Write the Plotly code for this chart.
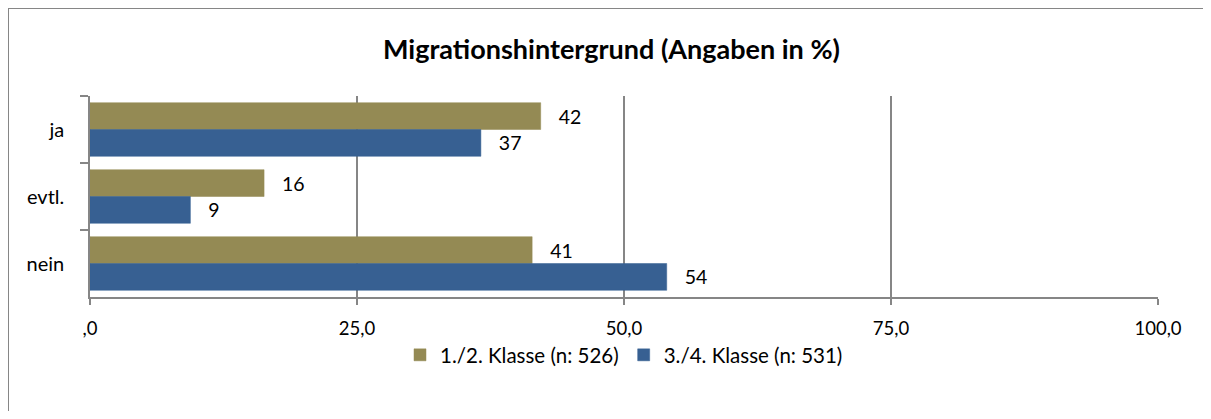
import plotly.graph_objects as go

categories = ["ja", "evtl.", "nein"]
series_names = ["1./2. Klasse (n: 526)", "3./4. Klasse (n: 531)"]
values_12 = [42.2, 16.3, 41.4]
values_34 = [36.6, 9.4, 54.0]
colors = ["#948A54", "#376092"]
x_tickvals = [0, 25, 50, 75, 100]
x_ticktext = [",0", "25,0", "50,0", "75,0", "100,0"]
title_text = "Migrationshintergrund (Angaben in %)"

FONT = "Lato"
GRAY = "#868686"
W, H = 1195, 403

fig = go.Figure()
for name, vals, col in zip(series_names, [values_12, values_34], colors):
    fig.add_trace(go.Bar(
        y=categories, x=vals, name=name, orientation="h",
        marker=dict(color=col, line=dict(color=col, width=0.5)),
        text=["   " + str(round(v)) for v in vals],
        textposition="outside", cliponaxis=False,
        textfont=dict(family=FONT, size=19.5, color="#000000"),
    ))

# empty helper trace so the frame axes (x2/y2) are drawn
fig.add_trace(go.Scatter(x=[None], y=[None], xaxis="x2", yaxis="y2",
                         showlegend=False, hoverinfo="skip", mode="lines"))

# plot-area placement in figure pixels
pl, pr, pt, pb = 82, 1150, 88, 289

fig.update_layout(
    width=W, height=H,
    margin=dict(l=0, r=0, t=0, b=0, autoexpand=False),
    paper_bgcolor="white", plot_bgcolor="rgba(0,0,0,0)",
    barmode="group", bargap=0.2, bargroupgap=0,
    font=dict(family=FONT, size=19, color="#000000"),
    title=dict(text="<b>" + title_text + "</b>", x=0.505, xanchor="center",
               y=1 - 42 / H, yanchor="middle", font=dict(family=FONT, size=27, color="#000000")),
    showlegend=True,
    legend=dict(orientation="h", x=((pl + pr) / 2) / W, xanchor="center",
                y=1 - 347 / H, yanchor="middle",
                font=dict(family=FONT, size=20.5), traceorder="normal",
                itemwidth=30, bgcolor="rgba(0,0,0,0)"),
    xaxis=dict(domain=[pl / W, pr / W], anchor="y", automargin=False),
    yaxis=dict(domain=[1 - pb / H, 1 - pt / H], anchor="x", automargin=False),
    xaxis2=dict(domain=[1 / W, 1], anchor="y2", side="top", range=[0, 1], automargin=False,
                showline=True, linecolor=GRAY, linewidth=2, showgrid=False,
                zeroline=False, showticklabels=False, ticks="", fixedrange=True),
    yaxis2=dict(domain=[0, 1 - 1 / H], anchor="x2", side="left", range=[0, 1], automargin=False,
                showline=True, linecolor=GRAY, linewidth=2, showgrid=False,
                zeroline=False, showticklabels=False, ticks="", fixedrange=True),
)

fig.update_xaxes(selector=dict(anchor="y"), range=[0, 100], tickvals=x_tickvals, ticktext=x_ticktext,
                 showgrid=True, gridcolor=GRAY, gridwidth=1.5,
                 showline=True, linecolor=GRAY, linewidth=1.5,
                 ticks="outside", ticklen=6, tickcolor=GRAY, tickwidth=1.5,
                 ticklabelstandoff=8, zeroline=False,
                 tickfont=dict(family=FONT, size=18.5, color="#000000"))
fig.update_yaxes(selector=dict(anchor="x"), autorange="reversed", showgrid=False,
                 showline=True, linecolor=GRAY, linewidth=1.5,
                 ticks="outside", tickson="boundaries", ticklen=8, tickcolor=GRAY, tickwidth=1.5,
                 ticklabelstandoff=20,
                 tickfont=dict(family=FONT, size=20, color="#000000"))

fig.write_html("out.html")
